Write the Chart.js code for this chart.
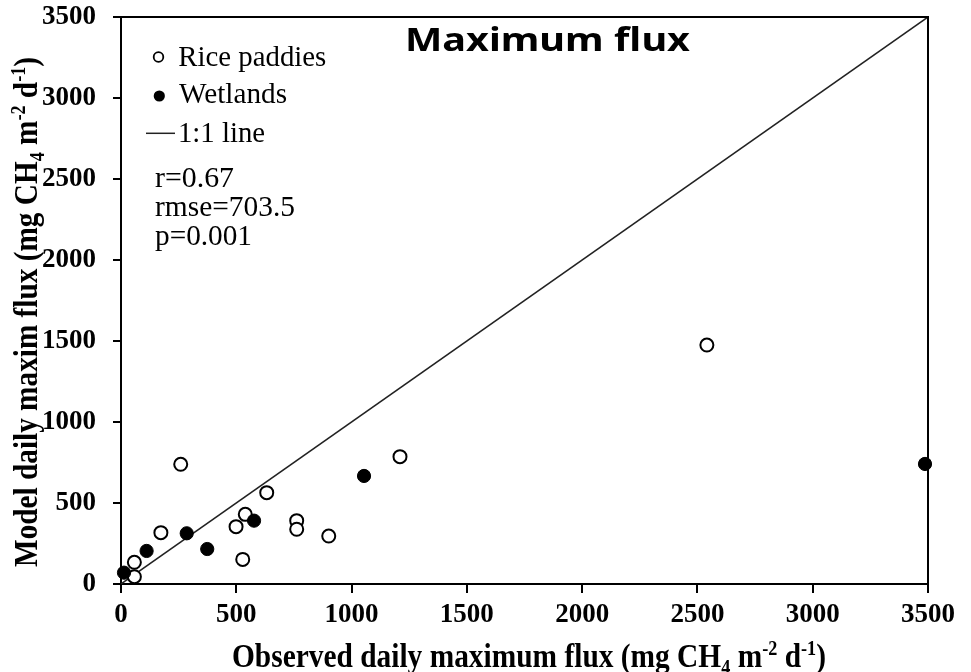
<!DOCTYPE html>
<html>
<head>
<meta charset="utf-8">
<script src="https://cdn.jsdelivr.net/npm/chart.js@4.4.1/dist/chart.umd.min.js"></script>
<style>
  html, body { margin: 0; padding: 0; background: #fff; }
  #wrap { width: 971px; height: 672px; position: relative; }
</style>
</head>
<body>
<div id="wrap"><canvas id="c" width="971" height="672"></canvas></div>
<script>
// ---- Data ----
const riceX = [58, 58, 173, 259, 499, 528, 539, 632, 762, 762, 901, 1210, 2541];
const riceY = [45, 134, 317, 739, 354, 152, 430, 564, 391, 338, 296, 786, 1475];
const wetX = [13, 111, 285, 374, 577, 1054, 3487];
const wetY = [70, 204, 313, 216, 391, 667, 741];
const oneToOneX = [0, 3500];
const oneToOneY = [0, 3500];
const xTicks = [0, 500, 1000, 1500, 2000, 2500, 3000, 3500];
const yTicks = [0, 500, 1000, 1500, 2000, 2500, 3000, 3500];
const chartTitle = "Maximum flux";
const legendLabels = ["Rice paddies", "Wetlands", "1:1 line"];
const statsLines = ["r=0.67", "rmse=703.5", "p=0.001"];

const SERIF = "'Liberation Serif','Times New Roman',serif";

function pts(xs, ys) { return xs.map((x, i) => ({ x: x, y: ys[i] })); }

// Rich text helper (sub/superscripts) with horizontal fit to a target width
function segFont(kind, size, weight) {
  const s = kind ? size * 0.62 : size;
  return weight + " " + s + "px " + SERIF;
}
function richWidth(ctx, segs, size, weight) {
  let w = 0;
  segs.forEach(s => { ctx.font = segFont(s[1], size, weight); w += ctx.measureText(s[0]).width; });
  return w;
}
function drawRich(ctx, segs, x, y, size, weight, targetW, rot) {
  const nat = richWidth(ctx, segs, size, weight);
  const sx = targetW ? targetW / nat : 1;
  ctx.save();
  ctx.translate(x, y);
  if (rot) ctx.rotate(rot);
  ctx.scale(sx, 1);
  ctx.fillStyle = '#000';
  ctx.textBaseline = 'alphabetic';
  ctx.textAlign = 'left';
  let cx = 0;
  segs.forEach(s => {
    ctx.font = segFont(s[1], size, weight);
    let dy = 0;
    if (s[1] === 'sub') dy = size * 0.22;
    if (s[1] === 'sup') dy = -size * 0.36;
    ctx.fillText(s[0], cx, dy);
    cx += ctx.measureText(s[0]).width;
  });
  ctx.restore();
}
function drawFit(ctx, text, x, y, font, targetW) {
  ctx.save();
  ctx.font = font;
  const nat = ctx.measureText(text).width;
  ctx.translate(x, y);
  ctx.scale(targetW / nat, 1);
  ctx.fillStyle = '#000';
  ctx.textBaseline = 'alphabetic';
  ctx.textAlign = 'left';
  ctx.fillText(text, 0, 0);
  ctx.restore();
}

const decorPlugin = {
  id: 'decor',
  afterDraw(chart) {
    const ctx = chart.ctx;
    const a = chart.chartArea;
    // frame (top and right sides)
    ctx.save();
    ctx.strokeStyle = '#000';
    ctx.lineWidth = 2;
    ctx.beginPath();
    ctx.moveTo(a.left, a.top); ctx.lineTo(a.right, a.top); ctx.lineTo(a.right, a.bottom);
    ctx.stroke();
    ctx.restore();

    // Title
    drawFit(ctx, chartTitle, 405, 51, "bold 32px 'Noto Sans', 'Open Sans', sans-serif", 285);

    // Legend markers
    ctx.save();
    ctx.strokeStyle = '#000'; ctx.fillStyle = '#fff'; ctx.lineWidth = 1.8;
    ctx.beginPath(); ctx.arc(158.5, 57, 4.8, 0, Math.PI * 2); ctx.fill(); ctx.stroke();
    ctx.fillStyle = '#000';
    ctx.beginPath(); ctx.arc(159.3, 96, 5.6, 0, Math.PI * 2); ctx.fill();
    ctx.lineWidth = 1.5; ctx.strokeStyle = '#222';
    ctx.beginPath(); ctx.moveTo(146, 133.3); ctx.lineTo(175, 133.3); ctx.stroke();
    ctx.restore();

    const lf = "normal 29px " + SERIF;
    drawFit(ctx, legendLabels[0], 178.3, 66, lf, 148);
    drawFit(ctx, legendLabels[1], 179, 103.3, lf, 108);
    drawFit(ctx, legendLabels[2], 178, 141.7, lf, 87);
    drawFit(ctx, statsLines[0], 155, 186.7, lf, 79);
    drawFit(ctx, statsLines[1], 155, 215.7, lf, 140);
    drawFit(ctx, statsLines[2], 155, 245, lf, 97);

    // Axis titles
    const xt = [["Observed daily maximum flux (mg CH", ""], ["4", "sub"], [" m", ""], ["-2", "sup"], [" d", ""], ["-1", "sup"], [")", ""]];
    drawRich(ctx, xt, 232, 667, 33, 'bold', 594, 0);
    const yt = [["Model daily maxim flux (mg CH", ""], ["4", "sub"], [" m", ""], ["-2", "sup"], [" d", ""], ["-1", "sup"], [")", ""]];
    drawRich(ctx, yt, 37, 567, 33, 'bold', 510, -Math.PI / 2);
  }
};

const tickFont = { family: SERIF, size: 27, weight: 'bold' };
const plain = v => String(v);

new Chart(document.getElementById('c'), {
  type: 'scatter',
  data: {
    datasets: [
      {
        label: legendLabels[2],
        data: pts(oneToOneX, oneToOneY),
        showLine: true,
        borderColor: '#222',
        borderWidth: 1.5,
        pointRadius: 0,
        fill: false,
        order: 3
      },
      {
        label: legendLabels[0],
        data: pts(riceX, riceY),
        pointRadius: 6.5,
        pointBorderWidth: 2,
        pointBorderColor: '#000',
        pointBackgroundColor: '#fff',
        borderColor: '#000',
        backgroundColor: '#fff',
        clip: false,
        order: 2
      },
      {
        label: legendLabels[1],
        data: pts(wetX, wetY),
        pointRadius: 6.6,
        pointBorderWidth: 1,
        pointBorderColor: '#000',
        pointBackgroundColor: '#000',
        borderColor: '#000',
        backgroundColor: '#000',
        clip: false,
        order: 1
      }
    ]
  },
  options: {
    responsive: false,
    animation: false,
    devicePixelRatio: 1,
    layout: { padding: { left: 0, right: 43, top: 17, bottom: 0 } },
    plugins: { legend: { display: false }, tooltip: { enabled: false }, title: { display: false } },
    scales: {
      x: {
        type: 'linear',
        min: 0, max: 3500,
        afterBuildTicks(scale) { scale.ticks = xTicks.map(v => ({ value: v })); },
        afterFit(scale) { scale.height = 88; scale.paddingLeft = 0; scale.paddingRight = 0; },
        ticks: { font: tickFont, color: '#000', padding: 6, maxRotation: 0, autoSkip: false, callback: plain },
        grid: { drawOnChartArea: false, drawTicks: true, tickLength: 9, color: '#000', lineWidth: 2 },
        border: { display: true, color: '#000', width: 2 }
      },
      y: {
        type: 'linear',
        min: 0, max: 3500,
        afterBuildTicks(scale) { scale.ticks = yTicks.map(v => ({ value: v })); },
        afterFit(scale) { scale.width = 121; scale.paddingTop = 0; scale.paddingBottom = 0; },
        ticks: { font: tickFont, color: '#000', padding: 17, autoSkip: false, callback: plain },
        grid: { drawOnChartArea: false, drawTicks: true, tickLength: 8, color: '#000', lineWidth: 2 },
        border: { display: true, color: '#000', width: 2 }
      }
    }
  },
  plugins: [decorPlugin]
});
</script>
</body>
</html>
